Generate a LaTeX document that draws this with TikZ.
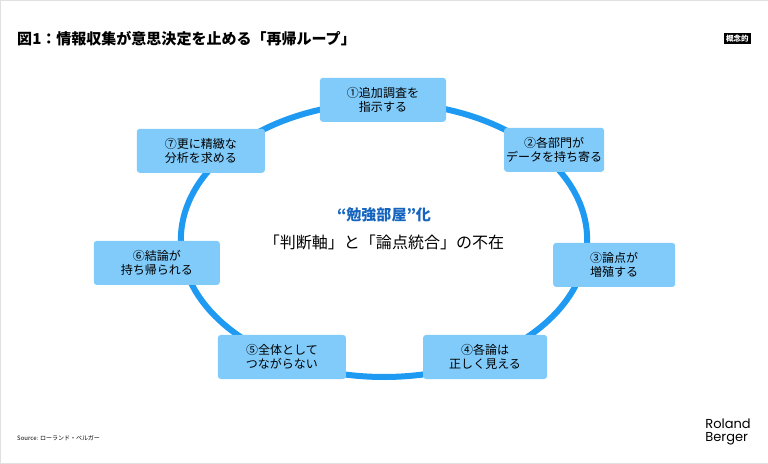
\documentclass[tikz,border=0pt]{standalone}
\usepackage{fontspec}
\setmainfont{Noto Sans CJK JP}
\newfontfamily\lat{Poppins}
\definecolor{ringc}{HTML}{1E9AF2}
\definecolor{boxc}{HTML}{80CBFA}
\definecolor{ttl}{HTML}{1565C0}
\begin{document}
\begin{tikzpicture}[x=1pt,y=-1pt,
 st/.style={fill=boxc,rounded corners=3pt,minimum width=126pt,minimum height=44pt,align=center,font=\fontsize{12}{14}\selectfont,inner sep=2pt}]
\path[use as bounding box,draw=black!12,fill=white] (0.5,0.5) rectangle (767.5,463.5);
\node[anchor=west,font=\fontsize{15}{18}\selectfont\bfseries] (t) at (14,39) {図1：情報収集が意思決定を止める「再帰ループ」};
\node[fill=black,text=white,font=\fontsize{7.5}{8}\selectfont\bfseries,inner sep=2pt] (tag) at (737,39) {概念的};
\draw[draw=ringc,line width=6pt] (384,240) ellipse [x radius=203, y radius=137];
\node[st] (n1) at (383,100) {①追加調査を\\指示する};
\node[st,minimum width=100pt] (n2) at (554,150) {②各部門が\\データを持ち寄る};
\node[st,minimum width=122pt] (n3) at (614,265) {③論点が\\増殖する};
\node[st,minimum width=124pt] (n4) at (485,357) {④各論は\\正しく見える};
\node[st,minimum width=128pt] (n5) at (282,357) {⑤全体として\\つながらない};
\node[st] (n6) at (157,263) {⑥結論が\\持ち帰られる};
\node[st,minimum width=128pt] (n7) at (201,151) {⑦更に精緻な\\分析を求める};
\node[text=ttl,font=\fontsize{15}{18}\selectfont\bfseries] (c1) at (384,215) {“勉強部屋”化};
\node[font=\fontsize{16}{19}\selectfont] (c2) at (384,243) {「判断軸」と「論点統合」の不在};
\node[anchor=west,font=\fontsize{6}{7}\selectfont] (src) at (14,438) {Source: ローランド・ベルガー};
\node[anchor=east,align=left,font=\lat\fontsize{13}{13}\selectfont] (logo) at (754,432) {Roland\\Berger};
\end{tikzpicture}
\end{document}
